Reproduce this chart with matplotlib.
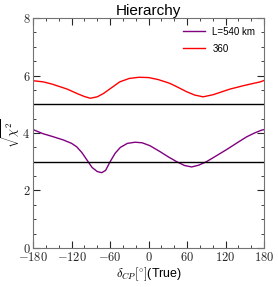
import matplotlib
matplotlib.use('Agg')
import matplotlib.pyplot as plt
import numpy as np

plt.rcParams['mathtext.fontset'] = 'cm'
plt.rcParams['font.family'] = ['Liberation Sans', 'DejaVu Sans']

# delta_CP (true) in degrees and sqrt(chi^2)
dcp_540 = [-180, -165, -150, -133, -120, -112, -104, -96, -88, -80, -73, -67, -60, -52, -44, -33,
           -21, -10, 2, 18, 30, 44, 56, 67, 78, 90, 105, 122, 138, 153, 165, 176, 180]
chi_540 = [4.12, 3.98, 3.88, 3.76, 3.64, 3.52, 3.32, 3.06, 2.8, 2.66, 2.62, 2.7, 3.0, 3.3, 3.5, 3.64,
           3.68, 3.66, 3.56, 3.35, 3.18, 3.0, 2.87, 2.82, 2.88, 3.0, 3.2, 3.43, 3.66, 3.87, 4.0, 4.1, 4.12]

dcp_360 = [-180, -164, -150, -127, -110, -100, -91, -80, -70, -60, -45, -30, -15,
           0, 15, 33, 45, 59, 72, 85, 100, 127, 150, 174, 180]
chi_360 = [5.82, 5.78, 5.7, 5.53, 5.36, 5.27, 5.21, 5.26, 5.38, 5.54, 5.78, 5.9, 5.94,
           5.93, 5.86, 5.73, 5.6, 5.44, 5.32, 5.26, 5.33, 5.53, 5.66, 5.78, 5.83]

levels = [5, 3]

fig = plt.figure(figsize=(2.78, 2.87), dpi=100)
ax = fig.add_axes([0.119, 0.136, 0.831, 0.801])

ax.plot(dcp_540, chi_540, color='#800080', lw=1.0, label='L=540 km')
ax.plot(dcp_360, chi_360, color='red', lw=1.0, label='360')
for lv in levels:
    ax.axhline(lv, color='black', lw=1.0)

ax.set_xlim(-180, 180)
ax.set_ylim(0, 8)
xt = [-180, -120, -60, 0, 60, 120, 180]
ax.set_xticks(xt)
ax.set_xticklabels(['$%d$' % v for v in xt])
ax.set_xticks(np.arange(-180, 181, 20), minor=True)
yt = [0, 2, 4, 6, 8]
ax.set_yticks(yt)
ax.set_yticklabels(['$%d$' % v for v in yt])
ax.set_yticks(np.arange(0, 8.01, 0.5), minor=True)
ax.tick_params(which='both', direction='in', top=True, right=True, labelsize=9, colors='0.15', pad=2)
ax.tick_params(which='major', length=5)
ax.tick_params(which='minor', length=2.5)
for s in ax.spines.values():
    s.set_color('0.45')

ax.set_title('Hierarchy', fontsize=11, pad=1)
ax.set_xlabel(r'$\delta_{CP}[^{\circ}]$(True)', fontsize=9, labelpad=1)
ax.set_ylabel(r'$\sqrt{\chi^2}$', fontsize=9, labelpad=0)
ax.legend(loc='upper right', frameon=False, fontsize=7, handlelength=2.2, labelspacing=0.7)

fig.savefig('out.png', dpi=100)
